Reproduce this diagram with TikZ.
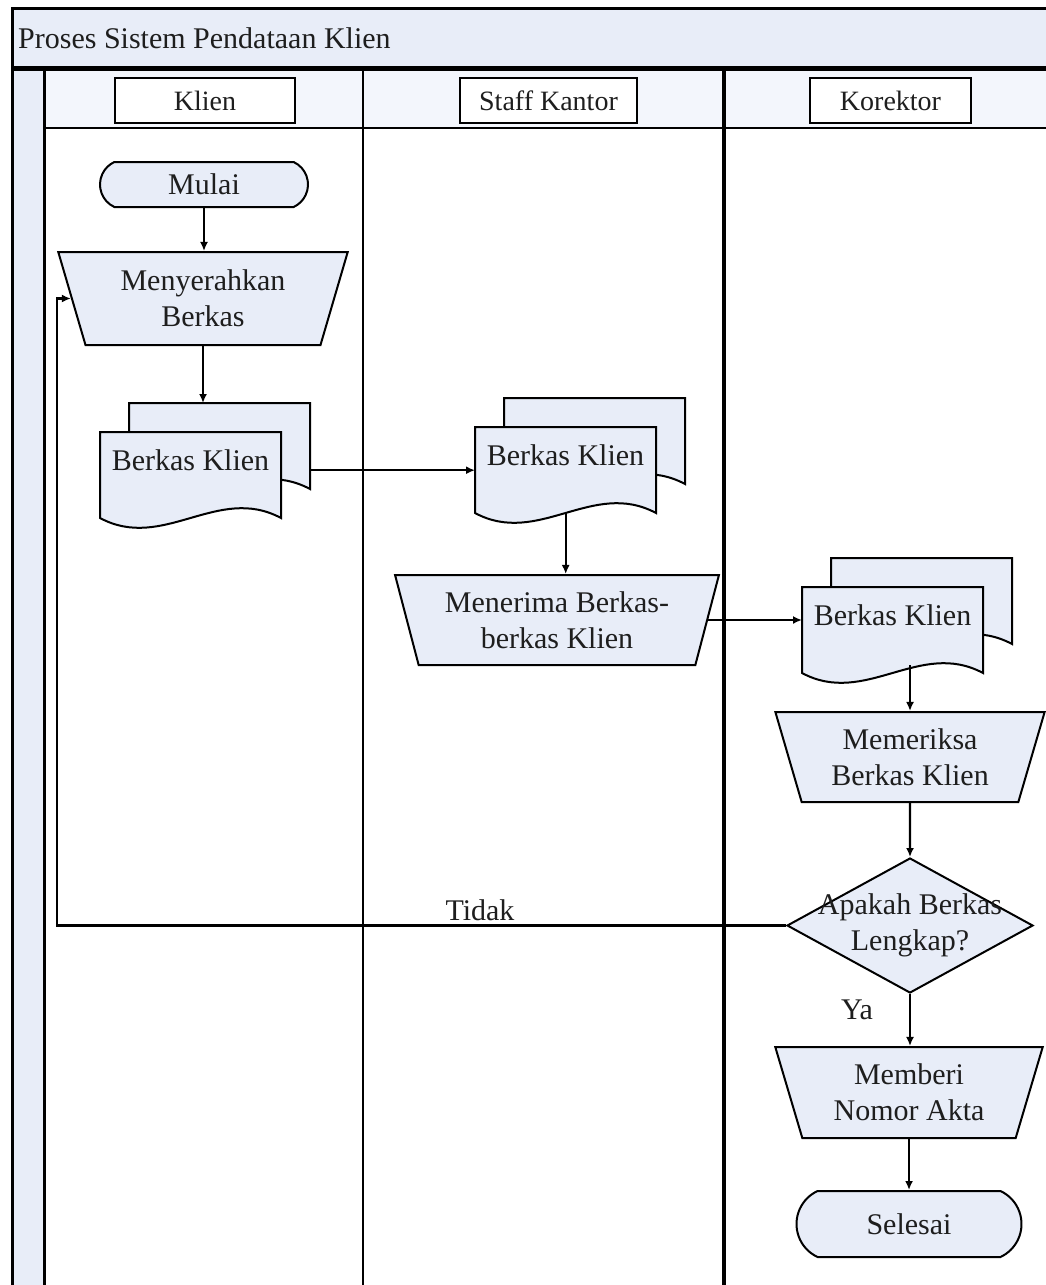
\documentclass[tikz,border=0pt]{standalone}
\usepackage{fontspec}
\setmainfont{Liberation Serif}
\usetikzlibrary{shapes.geometric,shapes.misc,arrows.meta,calc}
\definecolor{pale}{RGB}{232,237,248}
\definecolor{paler}{RGB}{243,246,252}
\definecolor{ink}{RGB}{30,30,30}
\newcommand\mydoc[4]{% name, X, Y (front top-left), text
  \path[shp] (#2+29,#3-29) -- (#2+210,#3-29) -- (#2+210,#3+57)
     .. controls (#2+29+0.65*181,#3+57-34) and (#2+29+0.35*181,#3+57+34) .. (#2+29,#3+57) -- cycle;
  \node[inner sep=0pt,minimum width=181pt,minimum height=86pt,anchor=north west] (#1b) at (#2+29,#3-29) {};
  \path[shp] (#2,#3) -- (#2+181,#3) -- (#2+181,#3+86)
     .. controls (#2+0.65*181,#3+86-34) and (#2+0.35*181,#3+86+34) .. (#2,#3+86) -- cycle;
  \node[inner sep=0pt,minimum width=181pt,minimum height=86pt,anchor=north west] (#1) at (#2,#3) {};
  \node[txt] (#1t) at (#2+90.5,#3+28) {#4};
}
\begin{document}
\begin{tikzpicture}[x=1pt,y=-1pt,
  shp/.style={draw=black,fill=pale,line width=2pt},
  txt/.style={font=\fontsize{30}{36}\selectfont,text=ink,align=center,inner sep=0pt},
  term/.style={shp,rounded rectangle,rounded rectangle arc length=130,inner sep=0pt,
     font=\fontsize{30}{36}\selectfont,text=ink},
  manop/.style={shp,trapezium,trapezium angle=71.5,shape border rotate=180,
     trapezium stretches=true,inner sep=0pt,font=\fontsize{30}{36}\selectfont,text=ink,align=center},
  arr/.style={draw=black,line width=2.4pt,-{Latex[length=9pt,width=8pt]}},
  hdr/.style={draw=black,fill=white,line width=2.2pt,font=\fontsize{28}{30}\selectfont,
     text=ink,minimum height=45pt,inner sep=0pt}
]
\useasboundingbox (0,0) rectangle (1046,1285);
\fill[white] (0,0) rectangle (1046,1285);
% pool frame
\fill[pale] (12,8) rectangle (1046,68);
\fill[pale] (12,68) rectangle (44,1285);
\fill[paler] (44,68) rectangle (1046,128);
\draw[line width=3pt] (1046,8) -- (12,8) -- (12,1285);
\draw[line width=3pt] (44,68) -- (44,1285);
\draw[line width=2.4pt] (44,128) -- (1046,128);
\draw[line width=2.4pt] (363,68) -- (363,1285);
\draw[line width=4pt] (724,68) -- (724,1285);
\draw[line width=5pt] (12,68) -- (1046,68);
\node[anchor=west,font=\fontsize{30}{34}\selectfont,text=ink,inner sep=0pt] (title) at (18,38) {Proses Sistem Pendataan Klien};
% lane headers
\node[hdr,minimum width=180pt] (hk) at (205,100.5) {Klien};
\node[hdr,minimum width=177pt] (hs) at (548.5,100.5) {Staff Kantor};
\node[hdr,minimum width=161pt] (hr) at (890.5,100.5) {Korektor};
% Klien lane
\node[term,minimum width=208pt,minimum height=45pt] (mulai) at (204,184.5) {Mulai};
\node[manop,minimum width=290pt,minimum height=93pt] (men1) at (203,298.5) {Menyerahkan\\Berkas};
\mydoc{d1}{100}{432}{Berkas Klien}
% Staff lane
\mydoc{d2}{475}{427}{Berkas Klien}
\node[manop,minimum width=325pt,minimum height=90pt] (men2) at (557,620) {Menerima Berkas-\\berkas Klien};
% Korektor lane
\mydoc{d3}{802}{587}{Berkas Klien}
\node[manop,minimum width=270pt,minimum height=90pt] (mem3) at (910,757) {Memeriksa\\Berkas Klien};
\node[shp,diamond,minimum width=246pt,minimum height=135pt,inner sep=0pt] (dec) at (910,925.5) {};
\node[txt] (dect) at (dec) {Apakah Berkas\\Lengkap?};
\node[manop,minimum width=268pt,minimum height=91pt] (memb) at (909,1092.5) {Memberi\\Nomor Akta};
\node[term,minimum width=225pt,minimum height=66pt] (sel) at (909,1224) {Selesai};
% connectors
\coordinate (lx) at (57,0);
\draw[arr] (mulai.south) -- (mulai.south |- men1.north);
\draw[arr] (men1.south) -- (men1.south |- d1b.north);
\draw[arr] (d1b.east |- d2.west) -- (d2.west);
\draw[arr] (d2.south) -- (d2.south |- men2.north);
\draw[arr] (men2.east) -- (men2.east -| d3.west);
\draw[arr] ($(d3.south -| mem3.north)+(0,-8)$) -- (mem3.north);
\draw[arr] (mem3.south) -- (dec.north);
\draw[arr] (dec.west) -- (dec.west -| lx) -- (men1.west -| lx) -- (men1.west);
\node[txt] (tidak) at (480,910) {Tidak};
\draw[arr] (dec.south) -- (dec.south |- memb.north);
\node[txt] (ya) at (857,1010) {Ya};
\draw[arr] (memb.south) -- (memb.south |- sel.north);
\end{tikzpicture}
\end{document}
